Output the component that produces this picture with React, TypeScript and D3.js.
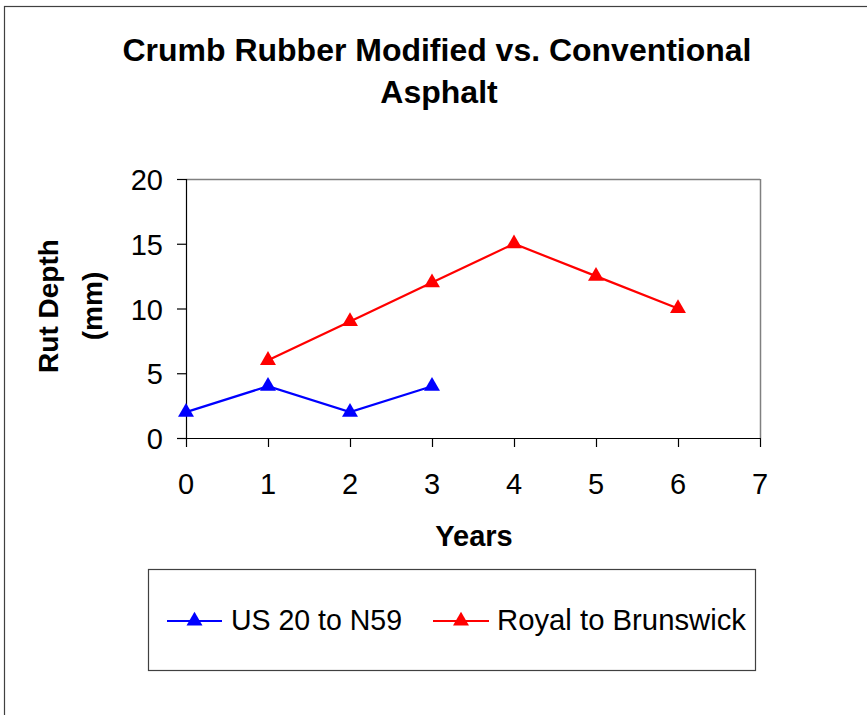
import React from "react";
import * as d3 from "d3";

const titleLines = ["Crumb Rubber Modified vs. Conventional", "Asphalt"];
const yTitleLines = ["Rut Depth", "(mm)"];
const xTitle = "Years";
const xTicks = [0, 1, 2, 3, 4, 5, 6, 7];
const yTicks = [0, 5, 10, 15, 20];

const seriesNames = ["US 20 to N59", "Royal to Brunswick"];
const seriesColors = ["#0000FF", "#FF0000"];
const usYears = [0, 1, 2, 3];
const usValues = [2, 4, 2, 4];
const royalYears = [1, 2, 3, 4, 5, 6];
const royalValues = [6, 9, 12, 15, 12.5, 10];

const FONT = "'Liberation Sans', Arial, Helvetica, sans-serif";

export default function App() {
  const W = 867;
  const H = 715;
  const x = d3.scaleLinear().domain([0, 7]).range([186, 760]);
  const y = d3.scaleLinear().domain([0, 20]).range([438, 179]);
  const line = d3
    .line<[number, number]>()
    .x((d) => x(d[0]))
    .y((d) => y(d[1]));
  const tri = d3.symbol().type(d3.symbolTriangle).size(110)() as string;

  const series = [
    { name: seriesNames[0], color: seriesColors[0], pts: usYears.map((v, i) => [v, usValues[i]] as [number, number]) },
    { name: seriesNames[1], color: seriesColors[1], pts: royalYears.map((v, i) => [v, royalValues[i]] as [number, number]) },
  ];

  const [x0, x1] = x.range();
  const [yb, yt] = y.range();

  const legendItems = [
    { lineX0: 167, lineX1: 222, textX: 231, textLen: 171 },
    { lineX0: 433, lineX1: 489, textX: 497, textLen: 249 },
  ];
  const legendY = 621;

  return (
    <svg
      width={W}
      height={H}
      style={{ position: "absolute", left: 0, top: 0, background: "#fff" }}
      fontFamily={FONT}
    >
      <rect x={0} y={0} width={W} height={H} fill="#fff" />
      {/* outer chart border */}
      <rect x={4.5} y={6.5} width={W + 20} height={H + 20} fill="none" stroke="#404040" strokeWidth={1.2} />

      {/* title */}
      <text x={437} y={61} textAnchor="middle" fontSize={32} fontWeight="bold" textLength={629} lengthAdjust="spacingAndGlyphs">
        {titleLines[0]}
      </text>
      <text x={439} y={103} textAnchor="middle" fontSize={32} fontWeight="bold">
        {titleLines[1]}
      </text>

      {/* plot frame */}
      <line x1={x0} y1={yt + 0.5} x2={x1} y2={yt + 0.5} stroke="#808080" strokeWidth={1.5} />
      <line x1={x1 + 0.5} y1={yt} x2={x1 + 0.5} y2={yb} stroke="#808080" strokeWidth={1.5} />
      <line x1={x0 + 0.5} y1={yt} x2={x0 + 0.5} y2={yb} stroke="#000" strokeWidth={1.2} />
      <line x1={x0} y1={yb + 0.5} x2={x1} y2={yb + 0.5} stroke="#000" strokeWidth={1.2} />

      {/* y ticks */}
      {yTicks.map((t) => (
        <g key={"y" + t}>
          <line x1={x0 - 9} x2={x0} y1={y(t) + 0.5} y2={y(t) + 0.5} stroke="#000" strokeWidth={1.2} />
          <text x={163} y={y(t) + 11} textAnchor="end" fontSize={29}>
            {t}
          </text>
        </g>
      ))}

      {/* x ticks */}
      {xTicks.map((t) => (
        <g key={"x" + t}>
          <line x1={x(t) + 0.5} x2={x(t) + 0.5} y1={yb} y2={yb + 9} stroke="#000" strokeWidth={1.2} />
          <text x={x(t)} y={494} textAnchor="middle" fontSize={29}>
            {t}
          </text>
        </g>
      ))}

      {/* axis titles */}
      <text x={474} y={546} textAnchor="middle" fontSize={29} fontWeight="bold">
        {xTitle}
      </text>
      <text transform={`translate(58,306) rotate(-90)`} textAnchor="middle" fontSize={28} fontWeight="bold">
        {yTitleLines[0]}
      </text>
      <text transform={`translate(102,306) rotate(-90)`} textAnchor="middle" fontSize={28} fontWeight="bold">
        {yTitleLines[1]}
      </text>

      {/* series */}
      {series.map((s) => (
        <g key={s.name}>
          <path d={line(s.pts) as string} fill="none" stroke={s.color} strokeWidth={2.2} />
          {s.pts.map((p, i) => (
            <path key={i} d={tri} transform={`translate(${x(p[0])},${y(p[1])})`} fill={s.color} />
          ))}
        </g>
      ))}

      {/* legend */}
      <rect x={148.5} y={569.5} width={607} height={101} fill="none" stroke="#404040" strokeWidth={1.2} />
      {series.map((s, i) => {
        const li = legendItems[i];
        return (
          <g key={"lg" + i}>
            <line x1={li.lineX0} x2={li.lineX1} y1={legendY} y2={legendY} stroke={s.color} strokeWidth={2.2} />
            <path d={tri} transform={`translate(${(li.lineX0 + li.lineX1) / 2},${legendY})`} fill={s.color} />
            <text x={li.textX} y={630} fontSize={29} textLength={li.textLen} lengthAdjust="spacingAndGlyphs">
              {s.name}
            </text>
          </g>
        );
      })}
    </svg>
  );
}
